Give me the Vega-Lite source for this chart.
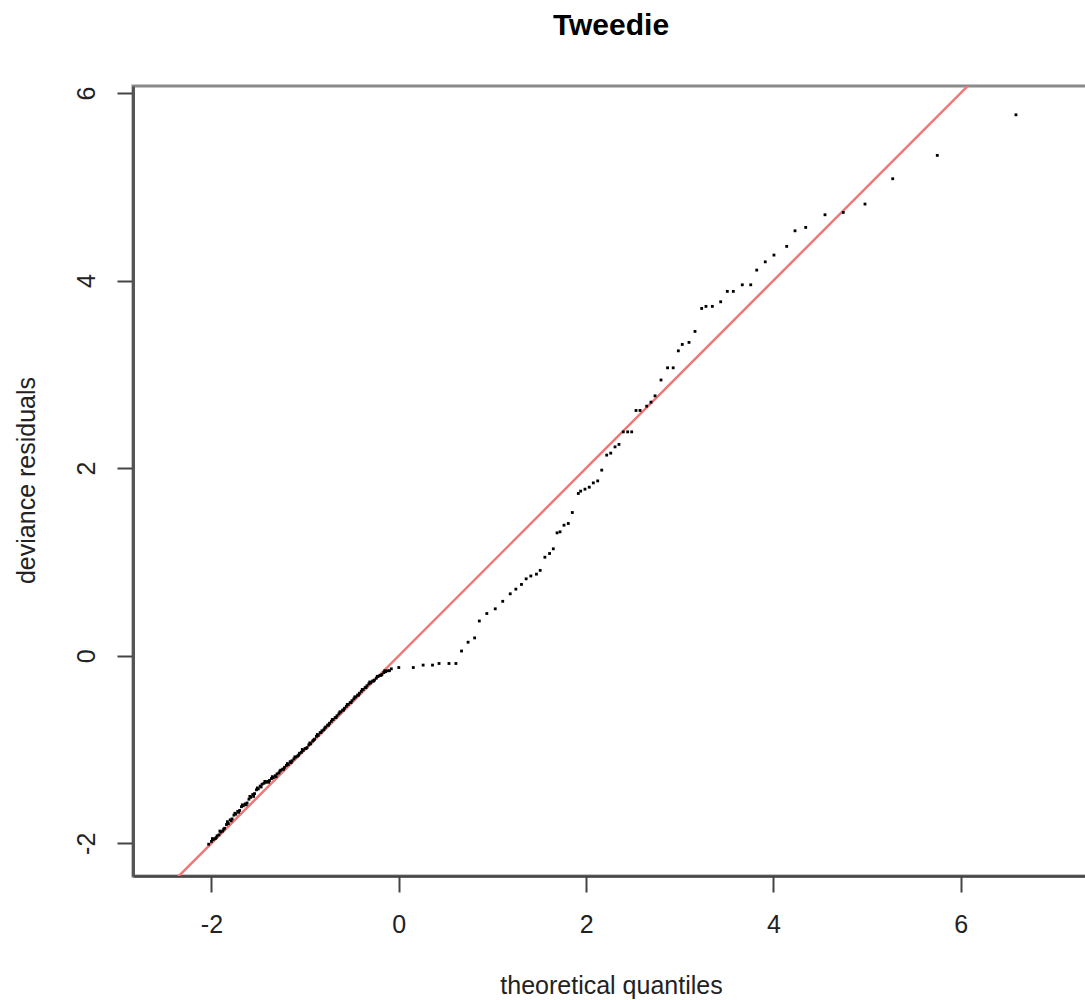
{
  "$schema": "https://vega.github.io/schema/vega-lite/v6.json",
  "width": 956,
  "height": 790,
  "autosize": {"type": "none"},
  "padding": {"left": 133, "top": 86, "right": 0, "bottom": 124},
  "background": "white",
  "title": {"text": "Tweedie", "font": "Liberation Sans", "fontSize": 30, "fontWeight": "bold", "color": "#000000", "anchor": "middle", "frame": "group", "baseline": "bottom", "offset": 15},
  "config": {
    "view": {"stroke": "#8a8a8a", "strokeWidth": 3},
    "font": "Liberation Sans"
  },
  "datasets": {
    "pts": [
      {"x": -2.03, "y": -2.01}, {"x": -2.0, "y": -1.98}, {"x": -1.98, "y": -1.96}, {"x": -1.96, "y": -1.95}, {"x": -1.94, "y": -1.92}, {"x": -1.92, "y": -1.91}, {"x": -1.9, "y": -1.88}, {"x": -1.88, "y": -1.87}, {"x": -1.86, "y": -1.84}, {"x": -1.84, "y": -1.8}, {"x": -1.82, "y": -1.79}, {"x": -1.8, "y": -1.75}, {"x": -1.78, "y": -1.74}, {"x": -1.76, "y": -1.7}, {"x": -1.74, "y": -1.69}, {"x": -1.72, "y": -1.66}, {"x": -1.7, "y": -1.65}, {"x": -1.68, "y": -1.61}, {"x": -1.66, "y": -1.6}, {"x": -1.64, "y": -1.58}, {"x": -1.62, "y": -1.57}, {"x": -1.6, "y": -1.53}, {"x": -1.58, "y": -1.51}, {"x": -1.56, "y": -1.48}, {"x": -1.54, "y": -1.47}, {"x": -1.52, "y": -1.43}, {"x": -1.5, "y": -1.42}, {"x": -1.48, "y": -1.39}, {"x": -1.46, "y": -1.37}, {"x": -1.44, "y": -1.36}, {"x": -1.42, "y": -1.35}, {"x": -1.4, "y": -1.34}, {"x": -1.38, "y": -1.33}, {"x": -1.36, "y": -1.31}, {"x": -1.34, "y": -1.3}, {"x": -1.32, "y": -1.28}, {"x": -1.3, "y": -1.26}, {"x": -1.28, "y": -1.25}, {"x": -1.26, "y": -1.22}, {"x": -1.24, "y": -1.21}, {"x": -1.22, "y": -1.19}, {"x": -1.2, "y": -1.17}, {"x": -1.18, "y": -1.16}, {"x": -1.16, "y": -1.13}, {"x": -1.14, "y": -1.12}, {"x": -1.12, "y": -1.1}, {"x": -1.1, "y": -1.08}, {"x": -1.08, "y": -1.07}, {"x": -1.06, "y": -1.04}, {"x": -1.04, "y": -1.03}, {"x": -1.02, "y": -1.01}, {"x": -1.0, "y": -0.99}, {"x": -0.98, "y": -0.98}, {"x": -0.96, "y": -0.95}, {"x": -0.94, "y": -0.94}, {"x": -0.92, "y": -0.91}, {"x": -0.9, "y": -0.89}, {"x": -0.88, "y": -0.86}, {"x": -0.86, "y": -0.85}, {"x": -0.84, "y": -0.82}, {"x": -0.82, "y": -0.8}, {"x": -0.8, "y": -0.79}, {"x": -0.78, "y": -0.76}, {"x": -0.76, "y": -0.74}, {"x": -0.74, "y": -0.72}, {"x": -0.72, "y": -0.7}, {"x": -0.7, "y": -0.68}, {"x": -0.68, "y": -0.66}, {"x": -0.66, "y": -0.64}, {"x": -0.64, "y": -0.62}, {"x": -0.62, "y": -0.6}, {"x": -0.6, "y": -0.58}, {"x": -0.58, "y": -0.56}, {"x": -0.56, "y": -0.54}, {"x": -0.54, "y": -0.52}, {"x": -0.52, "y": -0.5}, {"x": -0.5, "y": -0.48}, {"x": -0.48, "y": -0.46}, {"x": -0.46, "y": -0.44}, {"x": -0.44, "y": -0.42}, {"x": -0.42, "y": -0.4}, {"x": -0.4, "y": -0.38}, {"x": -0.38, "y": -0.36}, {"x": -0.36, "y": -0.34}, {"x": -0.34, "y": -0.32}, {"x": -0.32, "y": -0.3}, {"x": -0.3, "y": -0.29}, {"x": -0.28, "y": -0.27}, {"x": -0.26, "y": -0.26}, {"x": -0.24, "y": -0.24}, {"x": -0.22, "y": -0.22}, {"x": -0.2, "y": -0.21}, {"x": -0.18, "y": -0.2}, {"x": -0.16, "y": -0.18}, {"x": -0.14, "y": -0.17}, {"x": -0.12, "y": -0.16}, {"x": -0.08, "y": -0.14},
      {"x": -1.99, "y": -1.95}, {"x": -1.91, "y": -1.87}, {"x": -1.83, "y": -1.77}, {"x": -1.75, "y": -1.68}, {"x": -1.67, "y": -1.59}, {"x": -1.59, "y": -1.5}, {"x": -1.51, "y": -1.41}, {"x": -1.43, "y": -1.34}, {"x": -1.35, "y": -1.29}, {"x": -1.27, "y": -1.23}, {"x": -1.19, "y": -1.15}, {"x": -1.11, "y": -1.08}, {"x": -1.03, "y": -1.0}, {"x": -0.95, "y": -0.93}, {"x": -0.87, "y": -0.84}, {"x": -0.79, "y": -0.77}, {"x": -0.71, "y": -0.68}, {"x": -0.63, "y": -0.6}, {"x": -0.55, "y": -0.52}, {"x": -0.47, "y": -0.44}, {"x": -0.39, "y": -0.36}, {"x": -0.31, "y": -0.28}, {"x": -0.23, "y": -0.22}, {"x": -0.15, "y": -0.16},
      {"x": -1.95, "y": -1.94}, {"x": -1.87, "y": -1.85}, {"x": -1.79, "y": -1.76}, {"x": -1.71, "y": -1.67}, {"x": -1.63, "y": -1.59}, {"x": -1.55, "y": -1.5}, {"x": -1.47, "y": -1.4}, {"x": -1.39, "y": -1.35}, {"x": -1.31, "y": -1.29}, {"x": -1.23, "y": -1.21}, {"x": -1.15, "y": -1.14}, {"x": -1.07, "y": -1.06}, {"x": -0.99, "y": -0.99}, {"x": -0.91, "y": -0.9}, {"x": -0.83, "y": -0.82}, {"x": -0.75, "y": -0.74}, {"x": -0.67, "y": -0.66}, {"x": -0.59, "y": -0.58}, {"x": -0.51, "y": -0.5}, {"x": -0.43, "y": -0.42}, {"x": -0.35, "y": -0.34}, {"x": -0.27, "y": -0.27}, {"x": -0.19, "y": -0.21}, {"x": -0.1, "y": -0.16},
      {"x": 0.0, "y": -0.126}, {"x": 0.155, "y": -0.126}, {"x": 0.26, "y": -0.1}, {"x": 0.36, "y": -0.1}, {"x": 0.43, "y": -0.083}, {"x": 0.536, "y": -0.083}, {"x": 0.61, "y": -0.083}, {"x": 0.67, "y": 0.05}, {"x": 0.74, "y": 0.144}, {"x": 0.81, "y": 0.19}, {"x": 0.86, "y": 0.37},
      {"x": 0.94, "y": 0.45}, {"x": 1.03, "y": 0.5}, {"x": 1.11, "y": 0.58}, {"x": 1.19, "y": 0.66}, {"x": 1.25, "y": 0.71}, {"x": 1.31, "y": 0.76}, {"x": 1.36, "y": 0.82}, {"x": 1.41, "y": 0.85}, {"x": 1.47, "y": 0.87}, {"x": 1.51, "y": 0.91}, {"x": 1.56, "y": 1.05}, {"x": 1.61, "y": 1.09}, {"x": 1.65, "y": 1.14}, {"x": 1.69, "y": 1.31},
      {"x": 1.722, "y": 1.321}, {"x": 1.764, "y": 1.392}, {"x": 1.81, "y": 1.41}, {"x": 1.853, "y": 1.527}, {"x": 1.917, "y": 1.73}, {"x": 1.942, "y": 1.755}, {"x": 1.988, "y": 1.776}, {"x": 2.034, "y": 1.797}, {"x": 2.077, "y": 1.843}, {"x": 2.124, "y": 1.864}, {"x": 2.167, "y": 1.979}, {"x": 2.22, "y": 2.139}, {"x": 2.263, "y": 2.16}, {"x": 2.309, "y": 2.227}, {"x": 2.351, "y": 2.253}, {"x": 2.397, "y": 2.387}, {"x": 2.444, "y": 2.387}, {"x": 2.487, "y": 2.387}, {"x": 2.533, "y": 2.615}, {"x": 2.576, "y": 2.615}, {"x": 2.647, "y": 2.661}, {"x": 2.693, "y": 2.704}, {"x": 2.736, "y": 2.771},
      {"x": 2.8, "y": 2.94}, {"x": 2.87, "y": 3.07}, {"x": 2.93, "y": 3.07},
      {"x": 2.985, "y": 3.251}, {"x": 3.027, "y": 3.319}, {"x": 3.099, "y": 3.341}, {"x": 3.163, "y": 3.458}, {"x": 3.234, "y": 3.703}, {"x": 3.28, "y": 3.725}, {"x": 3.348, "y": 3.725}, {"x": 3.437, "y": 3.774}, {"x": 3.508, "y": 3.885}, {"x": 3.572, "y": 3.885}, {"x": 3.668, "y": 3.955}, {"x": 3.758, "y": 3.955}, {"x": 3.822, "y": 4.112}, {"x": 3.913, "y": 4.2}, {"x": 4.006, "y": 4.272}, {"x": 4.142, "y": 4.365}, {"x": 4.231, "y": 4.531},
      {"x": 4.345, "y": 4.567}, {"x": 4.551, "y": 4.702}, {"x": 4.746, "y": 4.727}, {"x": 4.978, "y": 4.816}, {"x": 5.274, "y": 5.086}, {"x": 5.75, "y": 5.335}, {"x": 6.59, "y": 5.768}
    ],
    "ref": [{"x1": -3, "y1": -3, "x2": 8, "y2": 8}]
  },
  "layer": [
    {
      "data": {"name": "ref"},
      "mark": {"type": "rule", "color": "#F07575", "strokeWidth": 2.4, "clip": true},
      "encoding": {
        "x": {"field": "x1", "type": "quantitative", "scale": {"domain": [-2.838, 7.37], "nice": false, "zero": false},
          "axis": {"values": [-2, 0, 2, 4, 6], "labelExpr": "'' + datum.value", "grid": false, "domain": true, "domainColor": "#444444", "domainWidth": 2.5, "tickColor": "#444444", "tickWidth": 2, "tickSize": 16, "labelFont": "Liberation Sans", "labelFontSize": 25, "labelColor": "#222222", "labelPadding": 20, "title": "theoretical quantiles", "titleFont": "Liberation Sans", "titleFontSize": 25, "titleFontWeight": "normal", "titleColor": "#222222", "titleX": 478, "titleY": 109, "titleAlign": "center", "titleBaseline": "middle"}},
        "y": {"field": "y1", "type": "quantitative", "scale": {"domain": [-2.349, 6.075], "nice": false, "zero": false},
          "axis": {"values": [-2, 0, 2, 4, 6], "labelExpr": "'' + datum.value", "grid": false, "domain": true, "domainColor": "#555555", "domainWidth": 3, "tickColor": "#444444", "tickWidth": 2, "tickSize": 16, "labelFont": "Liberation Sans", "labelFontSize": 25, "labelColor": "#222222", "labelAngle": -90, "labelAlign": "center", "labelBaseline": "bottom", "labelPadding": 18, "title": "deviance residuals", "titleFont": "Liberation Sans", "titleFontSize": 25, "titleFontWeight": "normal", "titleColor": "#222222", "titleAngle": -90, "titleX": -107, "titleY": 394, "titleAlign": "center", "titleBaseline": "middle"}},
        "x2": {"field": "x2"},
        "y2": {"field": "y2"}
      }
    },
    {
      "data": {"name": "pts"},
      "mark": {"type": "point", "filled": true, "shape": "square", "size": 8, "color": "#000000", "opacity": 1},
      "encoding": {
        "x": {"field": "x", "type": "quantitative"},
        "y": {"field": "y", "type": "quantitative"}
      }
    }
  ]
}
